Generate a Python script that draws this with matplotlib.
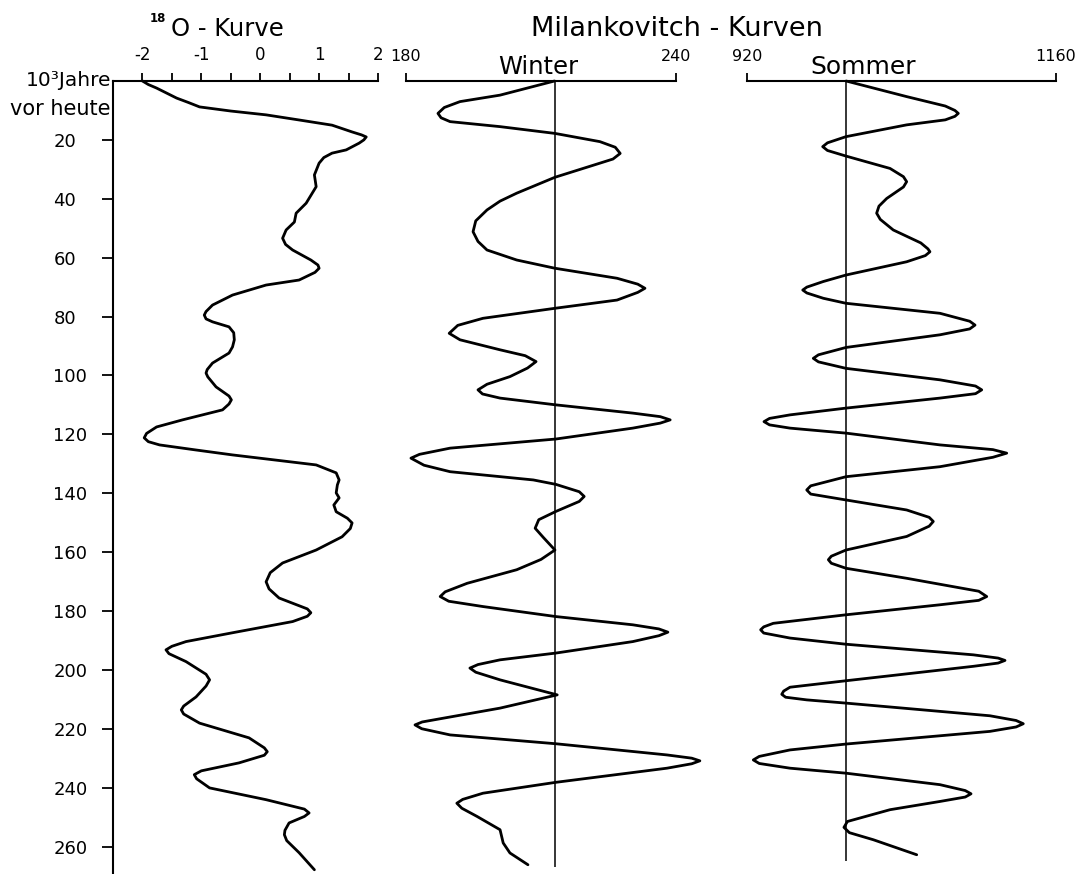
#!/usr/bin/env python3

import matplotlib
matplotlib.use("Agg")
import matplotlib.pyplot as plt
import numpy as np

# 18O curve (age in 10^3 years, value)
o18_age = [0, 1.2, 2.4, 4, 5.8, 7.3, 8.8, 10.2, 11.5, 13.3, 15, 17.3, 18.3, 19, 20, 21.1,
           23.4, 24.5, 26, 27.9, 31.9, 35.9, 41.5, 44.9, 47.9, 50.6, 53.4, 55.5, 57.4, 60.8,
           62.5, 63.6, 65, 67.6, 69.3, 72.7, 76.1, 78.3, 79.5, 80.8, 81.8, 83.5, 85.5, 87.9,
           90.3, 92.4, 95.8, 98, 99.2, 100.5, 103.9, 107, 108.3, 109.7, 111.7, 113.4, 115.1,
           117.5, 119.7, 121.2, 122.5, 123.6, 125.3, 127, 130.4, 133.1, 135.5, 137.2, 139.9,
           141.6, 144, 146.3, 148.5, 150.1, 152, 154.8, 159.3, 163.7, 167, 170.1, 172.5,
           175.6, 179.3, 180.6, 181.8, 183.6, 187.4, 190.4, 192, 193.2, 194.5, 197.2, 201.5,
           203.4, 205.5, 209.2, 212.3, 213.6, 215, 218.1, 223.1, 226.5, 227.8, 229, 231.6,
           234.3, 235.6, 237, 240.1, 244.1, 247.3, 248.6, 249.8, 252, 254.5, 256, 258,
           262.1, 267.9]
o18_val = [-2.0, -1.9, -1.76, -1.6, -1.42, -1.22, -1.03, -0.5, 0.1, 0.68, 1.22, 1.56, 1.72,
           1.8, 1.76, 1.68, 1.46, 1.22, 1.08, 1.0, 0.92, 0.95, 0.78, 0.61, 0.58, 0.44, 0.38,
           0.43, 0.55, 0.86, 0.98, 1.0, 0.93, 0.66, 0.1, -0.47, -0.81, -0.92, -0.95, -0.92,
           -0.81, -0.53, -0.45, -0.44, -0.47, -0.53, -0.81, -0.9, -0.92, -0.89, -0.75, -0.53,
           -0.49, -0.53, -0.64, -0.98, -1.32, -1.76, -1.93, -1.97, -1.9, -1.71, -1.1, -0.47,
           0.95, 1.29, 1.34, 1.31, 1.29, 1.34, 1.25, 1.29, 1.48, 1.56, 1.53, 1.39, 0.95,
           0.38, 0.17, 0.1, 0.15, 0.32, 0.8, 0.86, 0.8, 0.55, -0.47, -1.26, -1.5, -1.6,
           -1.55, -1.26, -0.92, -0.86, -0.92, -1.09, -1.3, -1.34, -1.3, -1.03, -0.19, 0.07,
           0.12, 0.07, -0.36, -1.0, -1.12, -1.08, -0.86, 0.1, 0.75, 0.83, 0.75, 0.49, 0.42,
           0.41, 0.45, 0.66, 0.92]

# Milankovitch winter curve
winter_age = [0, 4.8, 7, 9, 11, 12.5, 13.8, 15.5, 17.8, 20.6, 22.5, 24.6, 26.5, 27.9, 32.7,
              38.1, 40.8, 43.8, 47.5, 51.2, 54.5, 57.4, 60.8, 63.6, 67, 69, 70.4, 71.8, 74.4,
              77.2, 80.6, 83, 85.7, 87.9, 91.3, 93.3, 95.3, 97.5, 100.4, 103, 104.9, 106.3,
              107.7, 110, 112.8, 114, 115.1, 116.2, 117.9, 121.6, 124.7, 126.8, 128.1, 130.5,
              132.7, 135.5, 137, 139.5, 141.1, 142.8, 146.2, 149, 151.9, 155, 159.3, 162.5,
              166, 170.6, 173.5, 175.1, 176.7, 178.5, 181.9, 184.7, 186.1, 187.2, 188.4,
              190.4, 194.3, 196.6, 198.2, 199.4, 200.8, 203.4, 208.5, 213, 216.5, 217.7,
              218.7, 220, 222.1, 225.1, 228.9, 230, 230.9, 231.9, 233.4, 238.2, 241.9, 244,
              245.3, 247, 249.8, 254.3, 258.8, 262.2, 266.2]
winter_val = [213, 200.9, 192, 188.5, 187.1, 187.8, 189.8, 200.9, 213.1, 223.1, 226.5, 227.6,
              226, 223.1, 213.1, 204.6, 200.9, 198, 195.5, 194.9, 196, 198, 204.6, 213.1, 226.9,
              231.5, 233.1, 231.5, 226.9, 213.1, 197.1, 191.5, 189.6, 192, 200.9, 206.5,
              208.9, 207, 203.1, 198, 196, 197, 200.9, 213.3, 230.4, 236.5, 238.7, 236.5,
              230.4, 213.3, 189.8, 183, 181.1, 184, 189.8, 208.3, 213.3, 218.5, 219.6, 218.5,
              213.3, 209.5, 208.7, 210.5, 213.1, 210, 204.6, 193.6, 188.7, 187.6, 189.5,
              197.1, 213.3, 230.4, 236.2, 238.2, 236.2, 230.4, 213.3, 200.9, 196, 194.2,
              195.5, 200.9, 213.6, 200.9, 188, 183.6, 182, 183.5, 189.8, 213.3, 238, 243.5,
              245.3, 243.5, 238, 213.3, 197.1, 192.6, 191.3, 192.4, 195.8, 200.9, 201.6,
              203.1, 207.1]

# Milankovitch summer curve
summer_age = [0, 5.3, 8.5, 10, 11, 12, 13.2, 14.9, 18.9, 21, 22.3, 23.6, 25.5, 29.7, 32.5,
              34.2, 36, 39.9, 42.5, 44.9, 47, 50.6, 55, 57, 58, 59.3, 61.4, 65.9, 68.1, 70,
              71, 72, 73.8, 75.5, 78.9, 81.6, 82.9, 84.2, 86.2, 90.5, 93, 94.2, 95.4, 97.6,
              101.5, 103.6, 104.9, 106.2, 107.7, 111.1, 113.4, 114.6, 115.7, 116.8, 117.9,
              119.6, 123.6, 125.2, 126.4, 127.8, 131, 134.4, 137.5, 138.9, 140.3, 142.3,
              145.7, 148.2, 149.6, 151.2, 154.7, 159.3, 161.4, 162.6, 163.8, 165.5, 168.9,
              173.3, 175.1, 176.4, 177.9, 181.3, 184.2, 185.4, 186.4, 187.5, 189.2, 191.3,
              194.9, 196, 196.8, 197.7, 198.8, 203.7, 205.9, 207.2, 208.3, 209.3, 210.2,
              211.3, 215.6, 217.2, 218.3, 219.4, 220.9, 225.2, 227.2, 229.4, 230.6, 231.8,
              233.4, 235.1, 239, 241, 242.1, 243.2, 244.7, 247.5, 251.5, 253.5, 255.3,
              257.7, 262.8]
summer_val = [997, 1044, 1074, 1081.5, 1084.1, 1081.5, 1074, 1044, 996.9, 982.5, 978.8,
              982.5, 996.9, 1031.1, 1041.5, 1044, 1041.5, 1028.5, 1022.5, 1020.7, 1023.5,
              1033.6, 1055, 1060.5, 1062.1, 1058.5, 1044, 996.9, 979.3, 966.5, 963.3, 966.5,
              979.3, 996.9, 1069.9, 1093, 1097.1, 1093, 1069.9, 996.9, 975.5, 971.5, 975.5,
              996.9, 1069.9, 1097.5, 1102.3, 1097.5, 1069.9, 996.9, 953.4, 937.5, 933.2,
              937.5, 953.4, 996.9, 1069.9, 1111, 1121.7, 1111, 1069.9, 996.9, 969.5, 966.4,
              969.5, 996.9, 1044, 1061.5, 1064.7, 1061.5, 1044, 996.9, 985.5, 983.2, 985.5,
              996.9, 1044, 1100, 1106.2, 1100, 1069.9, 996.9, 940.4, 933, 930.6, 933,
              953.4, 996.9, 1095.8, 1115, 1120.4, 1115, 1095.8, 996.9, 953.4, 948.5, 947,
              950, 966.4, 996.9, 1108.7, 1129, 1134.6, 1129, 1108.7, 996.9, 953.4, 929.5,
              924.9, 929.5, 953.4, 996.9, 1069.9, 1089.5, 1094, 1089.5, 1069.9, 1031.1,
              998, 995.3, 999.5, 1018.1, 1051.8]

o18_ticks = [-2, -1, 0, 1, 2]
o18_labels = ["-2", "-1", "0", "1", "2"]
age_ticks = list(range(20, 261, 20))

winter_ref = 213
winter_end = 267
summer_ref = 997
summer_end = 265

W, H = 1084, 874


def fx(px):
  return px / W


def fy(py):
  return 1 - py / H


def add_axes_px(x0, x1, y0=81, y1=873):
  return fig.add_axes([fx(x0), fy(y1), (x1 - x0) / W, (y1 - y0) / H])


def strip_axes(ax, show_left):
  for side in ["right", "bottom"]:
    ax.spines[side].set_visible(False)
  ax.spines["left"].set_visible(show_left)
  ax.spines["top"].set_linewidth(1.5)
  ax.spines["left"].set_linewidth(1.5)
  ax.xaxis.set_ticks_position("top")
  ax.xaxis.set_label_position("top")
  ax.set_ylim(269, 0)


def curve(ax, vals, ages):
  ax.plot(vals, ages, color="black", lw=2.0, solid_joinstyle="round",
          solid_capstyle="round", clip_on=False)


plt.rcParams["font.family"] = "DejaVu Sans"
fig = plt.figure(figsize=(W / 100, H / 100), dpi=100)

# --- 18O panel
ax1 = add_axes_px(113, 378)
strip_axes(ax1, True)
curve(ax1, o18_val, o18_age)
ax1.set_xlim(-2.5, 2)
ax1.set_xticks(o18_ticks)
ax1.set_xticklabels(o18_labels)
ax1.set_xticks(np.arange(-1.5, 2, 1.0), minor=True)
ax1.tick_params(axis="x", which="both", direction="out", length=6, width=1.3,
                labelsize=12, pad=6)
ax1.set_yticks(age_ticks)
ax1.set_yticklabels([str(a) for a in age_ticks], ha="left")
ax1.tick_params(axis="y", direction="out", length=8, width=1.3, labelsize=13,
                pad=35)

# --- Winter panel
ax2 = add_axes_px(406, 676)
strip_axes(ax2, False)
curve(ax2, winter_val, winter_age)
ax2.vlines(winter_ref, 0, winter_end, color="black", lw=1.1)
ax2.set_xlim(180, 240)
ax2.set_xticks([180, 240])
ax2.set_xticklabels(["180", "240"])
ax2.set_yticks([])
ax2.tick_params(axis="x", direction="out", length=6, width=1.3, labelsize=11.5,
                pad=6)

# --- Summer panel
ax3 = add_axes_px(747, 1056)
strip_axes(ax3, False)
curve(ax3, summer_val, summer_age)
ax3.vlines(summer_ref, 0, summer_end, color="black", lw=1.1)
ax3.set_xlim(920, 1160)
ax3.set_xticks([920, 1160])
ax3.set_xticklabels(["920", "1160"])
ax3.set_yticks([])
ax3.tick_params(axis="x", direction="out", length=6, width=1.3, labelsize=11.5,
                pad=6)

# --- texts
fig.text(fx(150), fy(22), "18", fontsize=8.5, fontweight="bold", va="baseline")
fig.text(fx(171), fy(36), "O - Kurve", fontsize=17.5, va="baseline")
fig.text(fx(677), fy(36), "Milankovitch - Kurven", fontsize=19.5, ha="center",
         va="baseline")
fig.text(fx(538), fy(74), "Winter", fontsize=17.5, ha="center", va="baseline")
fig.text(fx(863), fy(74), "Sommer", fontsize=18, ha="center", va="baseline")
fig.text(fx(111), fy(86), "10³Jahre", fontsize=14.5, ha="right", va="baseline")
fig.text(fx(111), fy(115), "vor heute", fontsize=15, ha="right", va="baseline")

fig.savefig("out.png", dpi=100)
